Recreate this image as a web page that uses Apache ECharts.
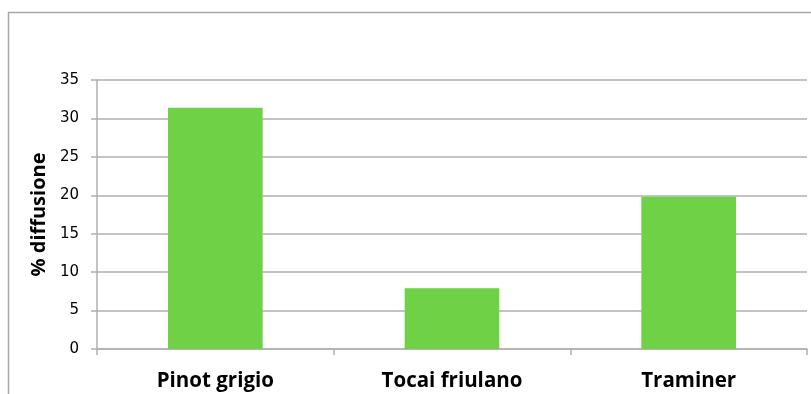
<!DOCTYPE html>
<html>
<head>
<meta charset="utf-8">
<script src="https://cdn.jsdelivr.net/npm/echarts@6/dist/echarts.min.js"></script>
<style>
  html, body { margin: 0; padding: 0; background: #fff; }
  #chart { width: 811px; height: 394px; }
</style>
</head>
<body>
<div id="chart"></div>
<script>
var categories = ['Pinot grigio', 'Tocai friulano', 'Traminer'];
var diffusione = [31.4, 7.9, 19.8];

var chart = echarts.init(document.getElementById('chart'));

var gray = '#b0b0b0';

var option = {
    animation: false,
    graphic: [{
        // cornice esterna del grafico
        type: 'rect',
        shape: { x: 8.5, y: 12.5, width: 820, height: 420 },
        style: { fill: 'none', stroke: '#a8a8a8', lineWidth: 1.5 },
        silent: true
    }],
    grid: {
        left: 97,
        right: 4,
        top: 80,
        bottom: 45
    },
    xAxis: {
        type: 'category',
        data: categories,
        axisLine: { lineStyle: { color: gray, width: 1.5 } },
        axisTick: { show: true, length: 6, alignWithLabel: false, lineStyle: { color: gray, width: 1.5 } },
        axisLabel: {
            margin: 22,
            color: '#000',
            fontFamily: 'Open Sans',
            fontWeight: 'bold',
            fontSize: 20.5
        }
    },
    yAxis: {
        type: 'value',
        min: 0,
        max: 35,
        interval: 5,
        name: '% diffusione',
        nameLocation: 'middle',
        nameGap: 47,
        nameRotate: 90,
        nameTextStyle: {
            color: '#000',
            fontFamily: 'Open Sans',
            fontWeight: 'bold',
            fontSize: 20
        },
        axisLine: { show: true, lineStyle: { color: gray, width: 1.5 } },
        axisTick: { show: true, length: 6, lineStyle: { color: gray, width: 1.5 } },
        axisLabel: {
            margin: 18,
            color: '#000',
            fontFamily: 'DejaVu Sans',
            fontSize: 15
        },
        splitLine: { lineStyle: { color: gray, width: 1.5 } }
    },
    series: [{
        type: 'bar',
        data: diffusione,
        barWidth: '40%',
        itemStyle: { color: '#6fd146' }
    }]
};

chart.setOption(option);
</script>
</body>
</html>
